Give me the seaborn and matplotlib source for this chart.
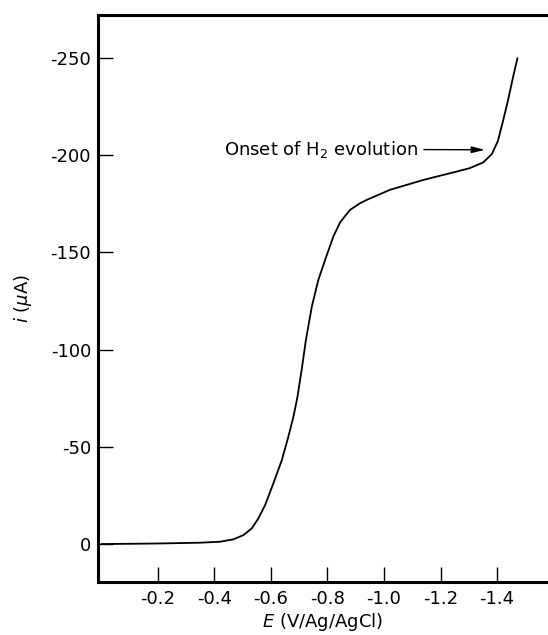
import pandas as pd
import matplotlib
matplotlib.use('Agg')
import matplotlib.pyplot as plt
import seaborn as sns

# potencijal (V vs Ag/AgCl) i struja (uA), ocitano sa slike
E = [0.0, -0.201, -0.350, -0.420, -0.467, -0.503, -0.533, -0.556, -0.580,
     -0.609, -0.639, -0.662, -0.680, -0.694, -0.710, -0.724, -0.745, -0.768,
     -0.792, -0.821, -0.845, -0.880, -0.915, -0.940, -1.021, -1.139, -1.257,
     -1.304, -1.351, -1.382, -1.403, -1.422, -1.439, -1.457, -1.472]
I = [0.0, -0.3, -0.7, -1.2, -2.4, -4.6, -8.1, -13.2, -20.1,
     -31.2, -43.2, -55.2, -65.5, -75.5, -90.5, -104.9, -122.1, -135.8,
     -146.1, -158.1, -165.4, -171.8, -175.2, -177.0, -182.1, -187.2, -191.5,
     -193.3, -196.2, -200.6, -207.3, -218.1, -228.4, -240.4, -249.8]

x_ticks = [-0.2, -0.4, -0.6, -0.8, -1.0, -1.2, -1.4]
y_ticks = [0, -50, -100, -150, -200, -250]

onset_E = -1.357
onset_I = -202.7

df = pd.DataFrame({'E': E, 'I': I})

sns.set_style('ticks')
plt.rcParams['font.family'] = ['DejaVu Sans']
plt.rcParams['axes.unicode_minus'] = False

fig = plt.figure(figsize=(5.48, 6.35), dpi=100)
ax = fig.add_axes([98 / 548, 1 - 582 / 635, 1 - 98 / 548, (582 - 15) / 635])

sns.lineplot(data=df, x='E', y='I', ax=ax, color='black', linewidth=1.3,
             sort=False, estimator=None)

ax.set_xlim(0.011, -1.58)
ax.set_ylim(19.5, -272)

ax.set_xticks(x_ticks)
ax.set_xticklabels([f'{t:.1f}' for t in x_ticks])
ax.set_yticks(y_ticks)
ax.set_yticklabels([str(t) for t in y_ticks])

ax.tick_params(direction='in', length=11, width=1, labelsize=13,
               colors='black', pad=6)
ax.tick_params(axis='y', pad=5)

for s in ['left', 'bottom', 'top']:
    ax.spines[s].set_linewidth(2.2)
    ax.spines[s].set_color('black')
ax.spines['right'].set_visible(False)

ax.set_xlabel('$E$ (V/Ag/AgCl)', fontsize=13, labelpad=2, color='black')
ax.set_ylabel('$i$ ($\\mu$A)', fontsize=13, labelpad=12, color='black')

ax.annotate('Onset of H$_2$ evolution', xy=(onset_E, onset_I),
            xytext=(-1.12, -203), ha='right', va='center', fontsize=13,
            color='black',
            arrowprops=dict(arrowstyle='-|>,head_length=0.6,head_width=0.15',
                            color='black', lw=1, shrinkA=2, shrinkB=0))

fig.savefig('out.png', dpi=100)
plt.close(fig)
